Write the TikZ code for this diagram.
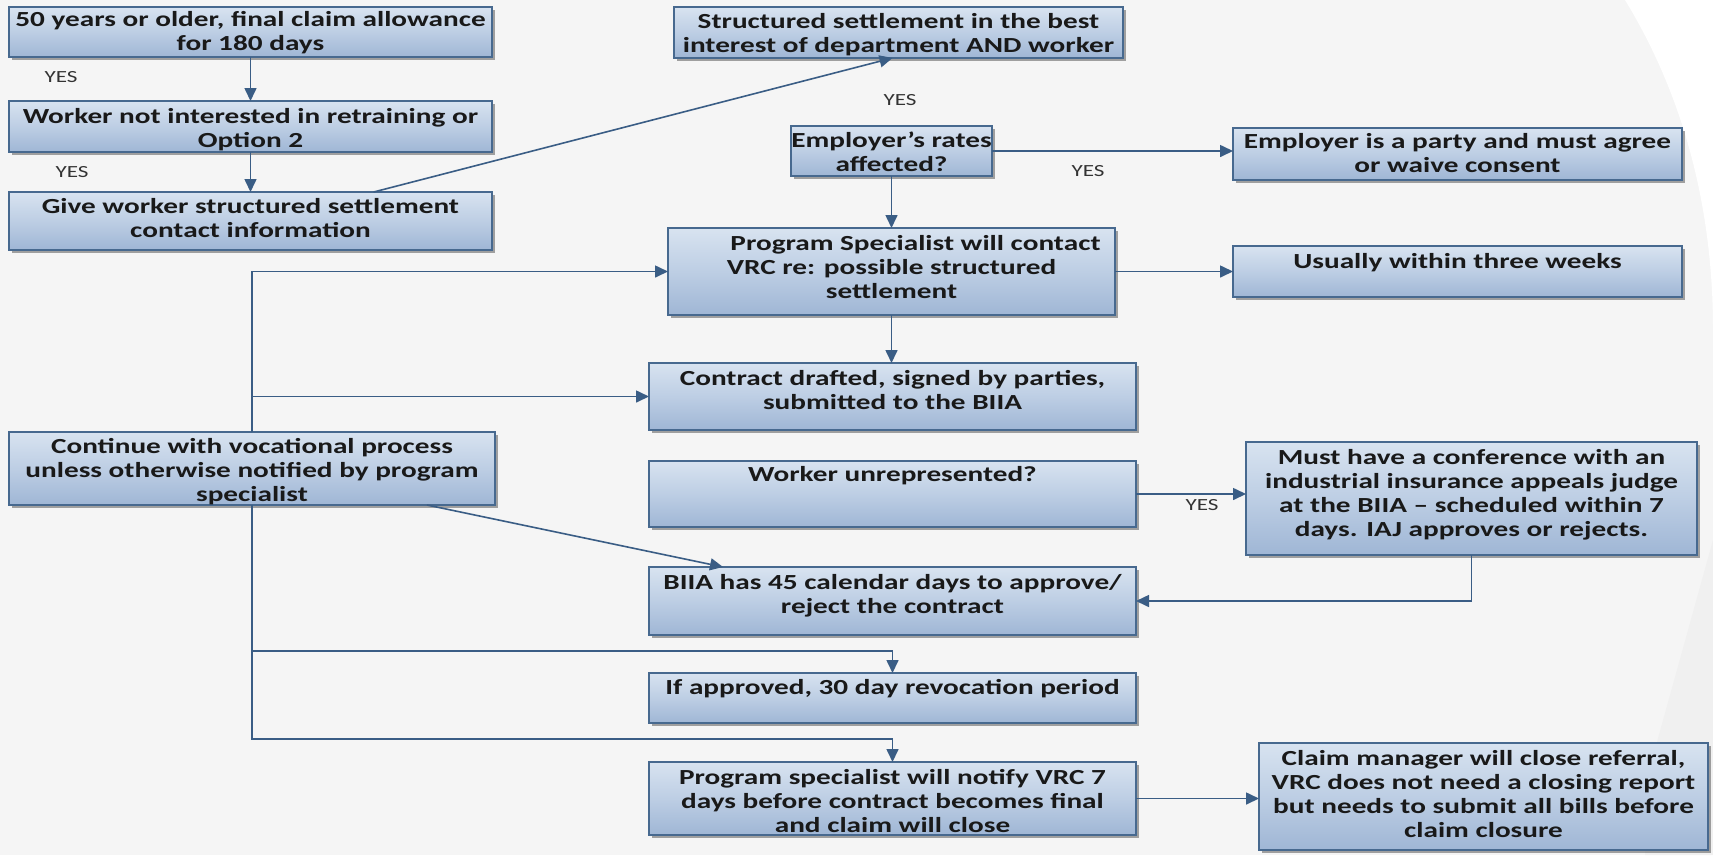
\documentclass[tikz,border=0pt]{standalone}
\usepackage{fontspec}
\newfontfamily\boxfont[FakeStretch=1.36]{Carlito}
\usetikzlibrary{arrows.meta,calc,shadows}
\definecolor{edgecol}{HTML}{3A5D85}
\definecolor{boxline}{HTML}{47698F}
\definecolor{boxtop}{HTML}{D8E3F0}
\definecolor{boxmid}{HTML}{BDCEE4}
\definecolor{boxbot}{HTML}{9FB6D5}
\definecolor{bgcol}{HTML}{F5F5F5}
% #1 = shift down (pt), #2 = width, #3 = height, #4 = text
\newcommand{\flowtxt}[4][3]{\vbox to #3pt{\vskip 0pt plus 1fill\kern#1pt\hbox to #2pt{\hss\begin{tabular}{@{}c@{}}#4\end{tabular}\hss}\kern-#1pt\vskip 0pt plus 1fill}}
\tikzset{
  flowbox/.style={draw=boxline, line width=1.6pt, inner sep=0pt, outer sep=0pt,
    top color=boxtop, bottom color=boxbot, middle color=boxmid, anchor=north west,
    font=\boxfont\bfseries\fontsize{21.5}{24}\selectfont, text=black!90,
    drop shadow={shadow xshift=2.5pt, shadow yshift=-2.5pt, fill=black, opacity=0.35}},
  conn/.style={draw=edgecol, line width=1.6pt, -{Triangle[length=13pt,width=12pt]}},
  plainline/.style={draw=edgecol, line width=1.6pt},
  yes/.style={font=\boxfont\fontsize{17}{19}\selectfont, text=black!80, inner sep=0pt},
}
\begin{document}
\begin{tikzpicture}[x=1pt,y=-1pt]
\useasboundingbox (0,0) rectangle (1713,855);
\fill[bgcol] (0,0) rectangle (1713,855);
\fill[white] (1625,0) .. controls (1680,90) and (1713,200) .. (1713,330) -- (1713,0) -- cycle;
\fill[black!6] (1713,540) -- (1652,760) -- (1645,855) -- (1713,855) -- cycle;

% left column
\node[flowbox] (b1) at (9,7) {\flowtxt[2]{483}{50}{50 years or older, final claim allowance\\for 180 days}};
\node[flowbox] (b2) at (9,101) {\flowtxt[4]{483}{51}{Worker not interested in retraining or\\Option 2}};
\node[flowbox] (b3) at (9,192) {\flowtxt[0]{483}{58}{Give worker structured settlement\\contact information}};
\node[flowbox] (cv) at (9,432) {\flowtxt[4]{486}{73}{Continue with vocational process\\unless otherwise notified by program\\specialist}};

% middle column
\node[flowbox] (ss) at (674,7) {\flowtxt[3]{449}{51}{Structured settlement in the best\\interest of department AND worker}};
\node[flowbox] (er) at (791,126) {\flowtxt[4]{201}{50}{Employer’s rates\\affected?}};
\node[flowbox] (ps) at (668,228) {\flowtxt[-2]{447}{87}{\hspace*{48pt}Program Specialist will contact\\VRC re: possible structured\\settlement}};
\node[flowbox] (cd) at (649,363) {\flowtxt[-4]{487}{67}{Contract drafted, signed by parties,\\submitted to the BIIA}};
\node[flowbox] (wu) at (649,461) {\flowtxt[-17]{487}{66}{Worker unrepresented?}};
\node[flowbox] (bi) at (649,567) {\flowtxt[-4]{487}{68}{BIIA has 45 calendar days to approve/\\reject the contract}};
\node[flowbox] (ia) at (649,673) {\flowtxt[-8]{487}{50}{If approved, 30 day revocation period}};
\node[flowbox] (pn) at (649,762) {\flowtxt[5]{487}{73}{Program specialist will notify VRC 7\\days before contract becomes final\\and claim will close}};

% right column
\node[flowbox] (ep) at (1233,128) {\flowtxt[2]{449}{52}{Employer is a party and must agree\\or waive consent}};
\node[flowbox] (us) at (1233,246) {\flowtxt[-8]{449}{51}{Usually within three weeks}};
\node[flowbox] (mh) at (1246,442) {\flowtxt[-3]{451}{113}{Must have a conference with an\\industrial insurance appeals judge\\at the BIIA – scheduled within 7\\days. IAJ approves or rejects.}};
\node[flowbox] (cm) at (1259,743) {\flowtxt[0]{449}{107}{Claim manager will close referral,\\VRC does not need a closing report\\but needs to submit all bills before\\claim closure}};

% labels
\node[yes] (y1) at (61,77) {YES};
\node[yes] (y2) at (72,172) {YES};
\node[yes] (y3) at (900,100) {YES};
\node[yes] (y4) at (1088,171) {YES};
\node[yes] (y5) at (1202,505) {YES};

% connectors
\draw[conn] (b1.south) -- (b2.north);
\draw[conn] (b2.south) -- (b3.north);
\draw[conn] ($(b3.north west)!0.755!(b3.north east)$) -- ($(ss.south)+(-6,0)$);
\draw[conn] (er.east) -- (er.east -| ep.west);
\draw[conn] (er.south) -- (er.south |- ps.north);
\draw[conn] (ps.east) -- (ps.east -| us.west);
\draw[conn] (ps.south) -- (ps.south |- cd.north);
\draw[conn] (cv.north) |- (ps.west);
\draw[conn] (cv.north) |- (cd.west);
\draw[conn] ($(cv.south west)!0.86!(cv.south east)$) -- ($(bi.north west)!0.152!(bi.north east)$);
\coordinate (jia) at ($(ia.north)+(0,-22)$);
\coordinate (jpn) at ($(pn.north)+(0,-23)$);
\draw[plainline] (cv.south) |- (jia);
\draw[conn] (jia) -- (ia.north);
\draw[plainline] (cv.south) |- (jpn);
\draw[conn] (jpn) -- (pn.north);
\draw[conn] (wu.east) -- (wu.east -| mh.west);
\draw[conn] (mh.south) |- (bi.east);
\draw[conn] (pn.east) -- (pn.east -| cm.west);
\end{tikzpicture}
\end{document}
